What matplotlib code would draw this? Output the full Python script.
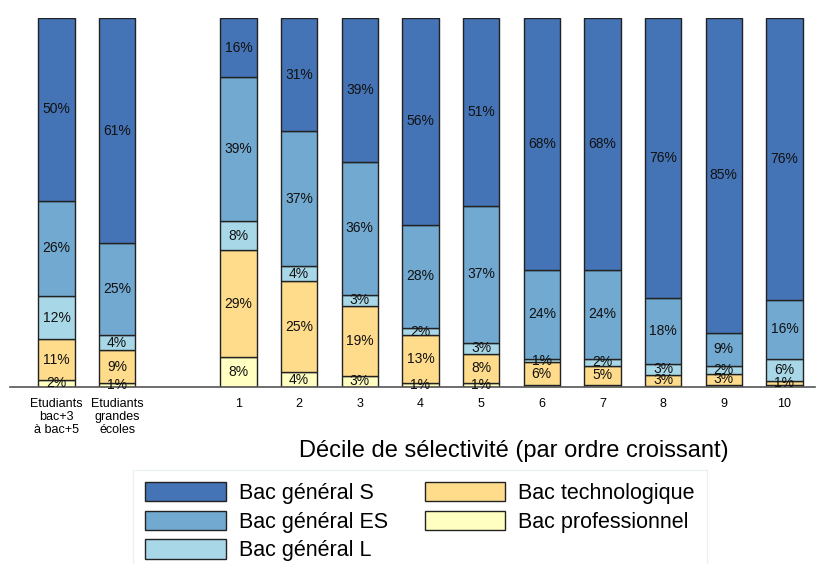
import matplotlib.pyplot as plt
import numpy as np

plt.rcParams['font.family'] = ['Liberation Sans', 'DejaVu Sans']

labels = ['Etudiants\nbac+3\nà bac+5', 'Etudiants\ngrandes\nécoles',
          '1', '2', '3', '4', '5', '6', '7', '8', '9', '10']
positions = [0, 1, 3, 4, 5, 6, 7, 8, 9, 10, 11, 12]

bac_pro = [2, 1, 8, 4, 3, 1, 1, 0.6, 0.6, 0.3, 0.6, 0.6]
bac_techno = [11, 9, 29, 25, 19, 13, 8, 6, 5, 3, 3, 1]
bac_l = [12, 4, 8, 4, 3, 2, 3, 1, 2, 3, 2, 6]
bac_es = [26, 25, 39, 37, 36, 28, 37, 24, 24, 18, 9, 16]
bac_s = [50, 61, 16, 31, 39, 56, 51, 68, 68, 76, 85, 76]

series = [
    ('Bac professionnel', bac_pro, '#FFFFC2'),
    ('Bac technologique', bac_techno, '#FEDC8C'),
    ('Bac général L', bac_l, '#A8D8E8'),
    ('Bac général ES', bac_es, '#72A9D0'),
    ('Bac général S', bac_s, '#4574B6'),
]

# each bar is drawn as a share of 100 %
totals = np.sum([np.array(v, dtype=float) for _, v, _ in series], axis=0)

fig = plt.figure(figsize=(8.17, 5.64), dpi=100)
ax = fig.add_axes([0.012, 0.314, 0.986, 0.654])

bottom = np.zeros(len(positions))
handles = {}
for name, vals, color in series:
    vals = np.array(vals, dtype=float)
    h = vals / totals * 100
    bars = ax.bar(positions, h, bottom=bottom, width=0.6, color=color,
                  edgecolor='#222222', linewidth=1)
    handles[name] = bars
    for x, b, v, hh in zip(positions, bottom, vals, h):
        if v >= 0.95:
            ax.text(x, b + hh / 2, f'{v:.0f}%', ha='center', va='center',
                    fontsize=10, color='#111111')
    bottom += h

ax.set_xlim(-0.77, 12.51)
ax.set_ylim(0, 100)
ax.set_xticks(positions)
ax.set_xticklabels(labels, fontsize=9, linespacing=1.1)
ax.tick_params(axis='x', length=0, pad=8)
ax.set_yticks([])
for s in ['left', 'right', 'top']:
    ax.spines[s].set_visible(False)
ax.spines['bottom'].set_color('#555555')
ax.spines['bottom'].set_linewidth(1.2)

fig.text(0.629, 0.2, 'Décile de sélectivité (par ordre croissant)',
         ha='center', va='center', fontsize=17)

order = ['Bac général S', 'Bac général ES', 'Bac général L',
         'Bac technologique', 'Bac professionnel']
leg = fig.legend([handles[n] for n in order], order, ncol=2,
                 loc='upper center', bbox_to_anchor=(0.514, 0.167),
                 fontsize=15.5, handlelength=3.75, handleheight=1.0,
                 columnspacing=1.7, labelspacing=0.32, handletextpad=0.6,
                 frameon=True, fancybox=False, borderpad=0.55,
                 borderaxespad=0)
leg.get_frame().set_edgecolor('#e6eef0')
leg.get_frame().set_linewidth(1)

fig.savefig('out.png', dpi=100)
